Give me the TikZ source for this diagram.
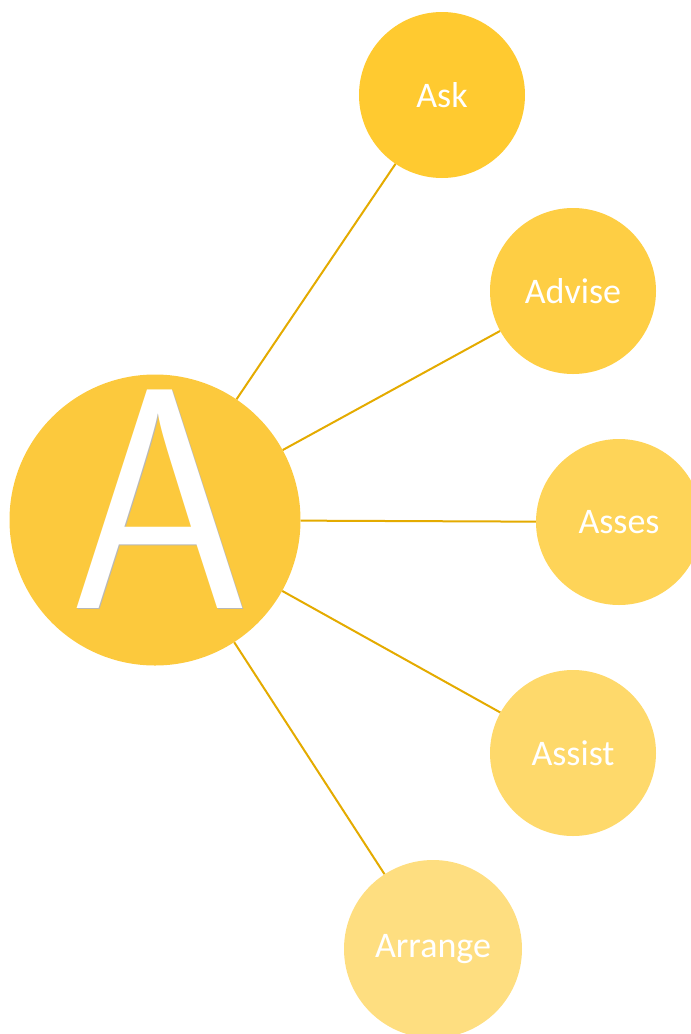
\documentclass[tikz,border=0pt]{standalone}
\usepackage{fontspec}
\setmainfont{Carlito}
\usetikzlibrary{calc}
\definecolor{hubfill}{HTML}{FCC93D}
\definecolor{askfill}{HTML}{FFCA30}
\definecolor{advisefill}{HTML}{FECE44}
\definecolor{assesfill}{HTML}{FED458}
\definecolor{assistfill}{HTML}{FED96B}
\definecolor{arrangefill}{HTML}{FEDE80}
\definecolor{linkcol}{HTML}{E4AB00}

\begin{document}
\begin{tikzpicture}[x=1pt,y=-1pt]
	\tikzstyle{bubble} = [circle, inner sep=0pt, minimum size=166pt, text=white, font=\fontsize{36}{40}\selectfont]
	\tikzstyle{link} = [draw=linkcol, line width=2pt]
	\tikzstyle{bigletter} = [font=\sffamily\fontsize{315}{315}\selectfont, xscale=0.92, anchor=base]
	\useasboundingbox (0,0) rectangle (691,1034);
	\node[circle, fill=hubfill, inner sep=0pt, minimum size=291pt] (hub) at (155,520) {};
	\node[bigletter, text=black!28] at (161.5,609.5) {A};
	\node[bigletter, text=white] (letter) at (160,608) {A};
	\node[bubble, fill=askfill] (ask) at (442,95) {Ask};
	\node[bubble, fill=advisefill] (advise) at (573,291) {Advise};
	\node[bubble, fill=assesfill] (asses) at (619,522) {Asses};
	\node[bubble, fill=assistfill] (assist) at (573,753) {Assist};
	\node[bubble, fill=arrangefill, minimum size=178pt] (arrange) at (433,949) {Arrange};
	\draw[link] (hub) -- (ask);
	\draw[link] (hub) -- (advise);
	\draw[link] (hub) -- (asses);
	\draw[link] (hub) -- (assist);
	\draw[link] (hub) -- (arrange);
\end{tikzpicture}
\end{document}
